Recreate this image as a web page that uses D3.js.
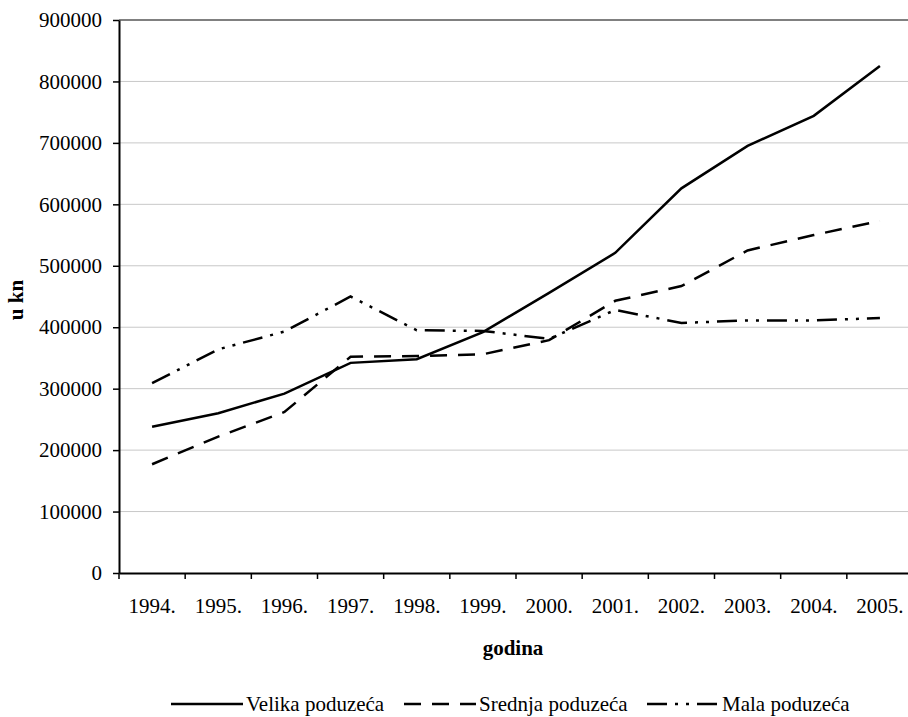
<!DOCTYPE html>
<html>
<head>
<meta charset="utf-8">
<script src="https://cdn.jsdelivr.net/npm/d3@7"></script>
<style>
  body { margin: 0; background: #fff; }
  svg text { font-family: "Liberation Serif", "Times New Roman", serif; fill: #000; }
</style>
</head>
<body>
<svg id="chart" width="908" height="717"></svg>
<script>
// data
const years = ["1994.", "1995.", "1996.", "1997.", "1998.", "1999.", "2000.", "2001.", "2002.", "2003.", "2004.", "2005."]
const velika = [238000, 260000, 292000, 342000, 348000, 392000, 456000, 521000, 626000, 695000, 744000, 825000]
const srednja = [177000, 222000, 262000, 352000, 353000, 356000, 379000, 443000, 467000, 525000, 550000, 573000]
const mala = [309000, 364000, 393000, 450000, 395000, 394000, 381000, 428000, 407000, 411000, 411000, 415000]
const yTicks = [0, 100000, 200000, 300000, 400000, 500000, 600000, 700000, 800000, 900000]

const series = [
  { name: "Velika poduzeća", values: velika, dash: null },
  { name: "Srednja poduzeća", values: srednja, dash: "17,11" },
  { name: "Mala poduzeća", values: mala, dash: "20,8,3,8,3,8" }
]

const svg = d3.select("#chart")
const plotLeft = 119, plotRight = 913, plotTop = 20, plotBottom = 573
const fs = 21

const x = d3.scaleBand().domain(years).range([plotLeft, plotRight])
const y = d3.scaleLinear().domain([0, 900000]).range([plotBottom, plotTop])

// gridlines
svg.append("g")
  .selectAll("line")
  .data(yTicks.slice(1))
  .enter()
  .append("line")
  .attr("x1", plotLeft).attr("x2", 908)
  .attr("y1", d => y(d)).attr("y2", d => y(d))
  .attr("stroke", d => d === 900000 ? "#808080" : "#c8c8c8")
  .attr("stroke-width", d => d === 900000 ? 2 : 1)

// y axis
const yAxis = svg.append("g")
  .attr("transform", `translate(${plotLeft},0)`)
  .call(d3.axisLeft(y).tickValues(yTicks).tickFormat(d3.format("d")).tickSize(6).tickSizeOuter(0).tickPadding(11))
yAxis.select(".domain").attr("stroke", "#000").attr("stroke-width", 2)
yAxis.selectAll(".tick line").attr("stroke", "#000").attr("stroke-width", 1.5)
yAxis.selectAll("text").attr("font-size", fs).attr("font-family", "Liberation Serif")

// x axis, ticks between categories
const xAxis = svg.append("g")
  .attr("transform", `translate(0,${plotBottom})`)
  .call(d3.axisBottom(x).tickSize(0).tickPadding(25))
xAxis.select(".domain").attr("stroke", "#000").attr("stroke-width", 2)
xAxis.selectAll("text").attr("font-size", fs).attr("font-family", "Liberation Serif")
xAxis.selectAll(".sep")
  .data(d3.range(years.length + 1))
  .enter()
  .append("line")
  .attr("class", "sep")
  .attr("x1", i => plotLeft + i * x.step()).attr("x2", i => plotLeft + i * x.step())
  .attr("y1", 0).attr("y2", 6)
  .attr("stroke", "#000").attr("stroke-width", 1.5)

// lines
const line = d3.line()
  .x((d, i) => x(years[i]) + x.bandwidth() / 2)
  .y(d => y(d))

svg.append("g")
  .selectAll("path")
  .data(series)
  .enter()
  .append("path")
  .attr("d", d => line(d.values))
  .attr("fill", "none")
  .attr("stroke", "#000")
  .attr("stroke-width", 2.5)
  .attr("stroke-dasharray", d => d.dash)

// axis titles
svg.append("text")
  .attr("x", 513).attr("y", 655)
  .attr("text-anchor", "middle")
  .attr("font-weight", "bold").attr("font-size", fs)
  .text("godina")

svg.append("text")
  .attr("transform", "translate(23,300) rotate(-90)")
  .attr("text-anchor", "middle")
  .attr("font-weight", "bold").attr("font-size", fs)
  .text("u kn")

// legend
const legendX = [171, 404, 647]
const leg = svg.append("g")
  .selectAll("g")
  .data(series)
  .enter()
  .append("g")
  .attr("transform", (d, i) => `translate(${legendX[i]},704)`)
leg.append("line")
  .attr("x1", 0).attr("x2", 72)
  .attr("y1", 0).attr("y2", 0)
  .attr("stroke", "#000").attr("stroke-width", 2.5)
  .attr("stroke-dasharray", d => d.dash)
leg.append("text")
  .attr("x", 75).attr("y", 7)
  .attr("font-size", fs)
  .text(d => d.name)
</script>
</body>
</html>
